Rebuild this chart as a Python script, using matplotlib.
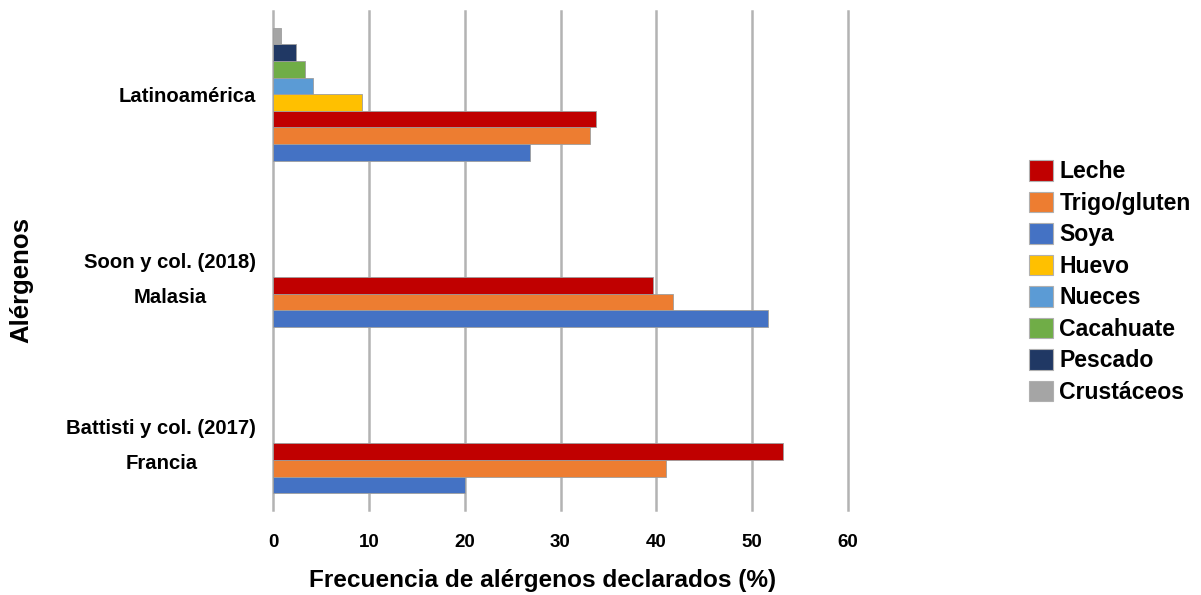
import matplotlib
matplotlib.use("Agg")
import matplotlib.pyplot as plt
from matplotlib.patches import Patch
import numpy as np

# Regions / studies (top to bottom)
regions = ["Latinoamérica", "Soon y col. (2018)", "Battisti y col. (2017)"]
region_subtitles = ["", "Malasia", "Francia"]

# Allergen series, drawn from the bottom of each group upwards
allergens = ["Soya", "Trigo/gluten", "Leche", "Huevo", "Nueces",
             "Cacahuate", "Pescado", "Crustáceos"]
colors = ["#4472c4", "#ed7d31", "#c00000", "#ffc000", "#5b9bd5",
          "#70ad47", "#203864", "#a5a5a5"]

# Declared allergen frequency (%) per region
soya = [26.8, 51.6, 20.0]
trigo = [33.1, 41.7, 41.0]
leche = [33.7, 39.7, 53.2]
huevo = [9.3, 0, 0]
nueces = [4.2, 0, 0]
cacahuate = [3.3, 0, 0]
pescado = [2.4, 0, 0]
crustaceos = [0.8, 0, 0]
series = [soya, trigo, leche, huevo, nueces, cacahuate, pescado, crustaceos]

legend_order = ["Leche", "Trigo/gluten", "Soya", "Huevo", "Nueces",
                "Cacahuate", "Pescado", "Crustáceos"]

x_ticks = [0, 10, 20, 30, 40, 50, 60]

plt.rcParams["font.family"] = ["Liberation Sans", "DejaVu Sans"]

fig = plt.figure(figsize=(12.01, 5.95), dpi=100)
ax = fig.add_axes([273 / 1201, 1 - 510 / 595, 575 / 1201, 499 / 595])

y = np.arange(len(regions))
bar_h = 0.1
n = len(allergens)
for i, (name, vals, col) in enumerate(zip(allergens, series, colors)):
    offset = (n / 2 - 0.5 - i) * bar_h
    vals = np.asarray(vals, dtype=float)
    shown = vals > 0
    ax.barh((y + offset)[shown], vals[shown], height=bar_h, color=col,
            edgecolor="#9e9e9e", linewidth=0.6, zorder=3)

ax.set_xlim(0, 60)
ax.set_ylim(2.5, -0.5)
ax.set_xticks(x_ticks)
ax.set_xticklabels([str(t) for t in x_ticks],
                   family=["Liberation Sans Narrow", "Liberation Sans"],
                   fontweight="bold", fontsize=13.5)
ax.set_yticks(y)
ax.set_yticklabels(regions, fontweight="bold", fontsize=14.6)
ax.tick_params(axis="both", length=0)
ax.tick_params(axis="x", pad=17)
ax.tick_params(axis="y", pad=12)

ax.grid(axis="x", color="#b3b3b3", linewidth=1.8, zorder=0)
for gl in ax.get_xgridlines():
    gl.set_clip_on(False)
for s in ax.spines.values():
    s.set_visible(False)

# Country names below the study labels
for lab, sub in zip(ax.get_yticklabels(), region_subtitles):
    if sub:
        ax.annotate(sub, xy=(0.5, 0.5), xycoords=lab,
                    xytext=(0, -25), textcoords="offset points",
                    ha="center", va="center", fontsize=14.6,
                    fontweight="bold")

ax.set_xlabel("Frecuencia de alérgenos declarados (%)", fontsize=17.6,
              fontweight="bold")
ax.xaxis.set_label_coords(0.4696, -0.142)
ax.xaxis.label.set_va("center")
ax.set_ylabel("Alérgenos", fontsize=18.5, fontweight="bold")
ax.yaxis.set_label_coords(-0.438, 0.461)
ax.yaxis.label.set_va("center")

handles = [Patch(facecolor=colors[allergens.index(k)], edgecolor="#b0b0b0",
                 linewidth=0.8, label=k) for k in legend_order]
fig.legend(handles=handles, loc="center left",
           bbox_to_anchor=(0.8495, 0.526), frameon=False,
           prop={"weight": "bold", "size": 16.6},
           handlelength=1.0, handleheight=1.0, handletextpad=0.3,
           labelspacing=0.36, borderaxespad=0)

fig.savefig("out.png", dpi=100)
